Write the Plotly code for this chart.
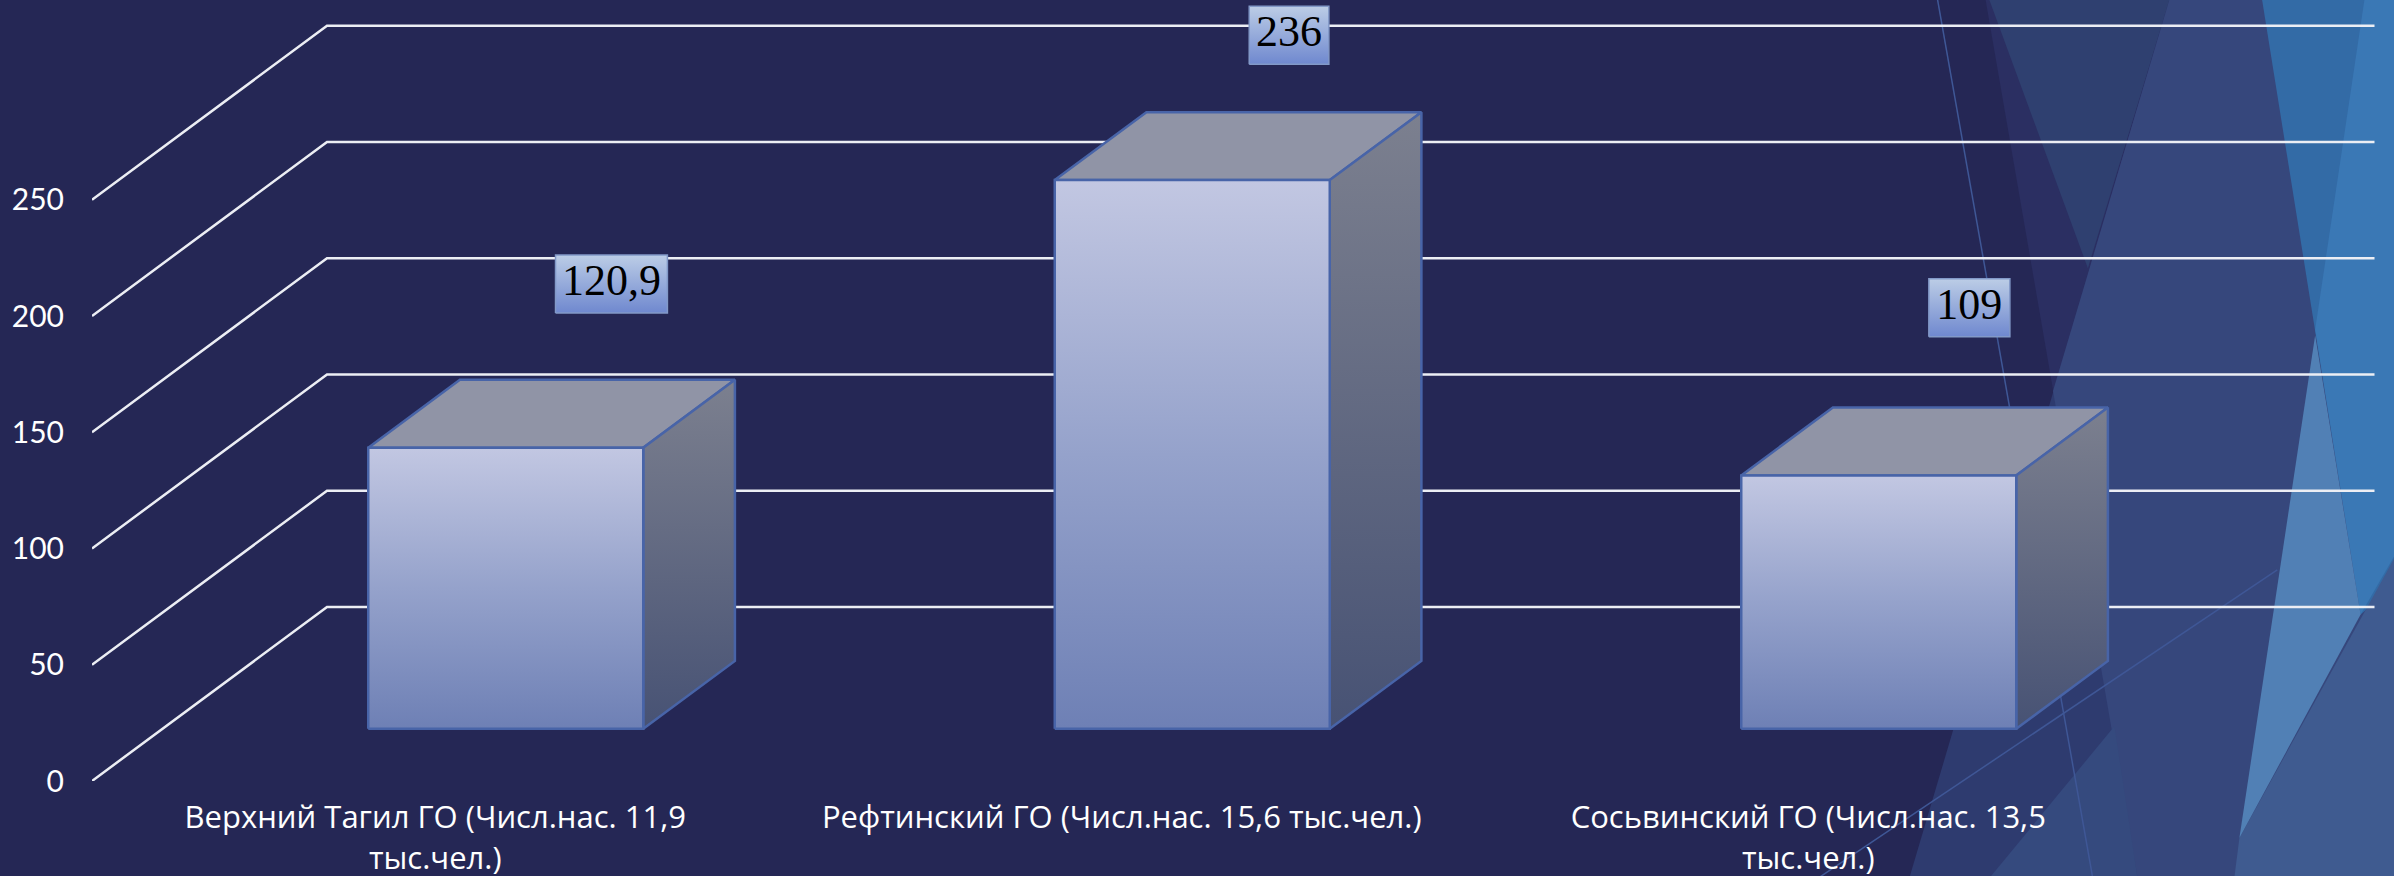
import plotly.graph_objects as go

# ---- data ----
categories = ["Верхний Тагил ГО (Числ.нас. 11,9<br>тыс.чел.)",
              "Рефтинский ГО (Числ.нас. 15,6 тыс.чел.)",
              "Сосьвинский ГО (Числ.нас. 13,5<br>тыс.чел.)"]
values = [120.9, 236, 109]
value_labels = ["120,9", "236", "109"]
y_ticks = [0, 50, 100, 150, 200, 250]

# ---- projection / style ----
W_PX, H_PX = 2394, 876
ML, MB = 92, 95
UX = 686.5            # px per category
UY = 2.325            # px per value unit
DEPTH_X = 235 / UX    # oblique projection of full floor depth
DEPTH_Y = 174 / UY
BAR_W = 275 / UX
F_FRONT, F_BACK = 0.30, 0.69
X_MIN, X_MAX = -0.5, -0.5 + (W_PX - ML) / UX
Y_MAX = (H_PX - MB) / UY
X_GRID_END = 2.5 + (235 - 12) / UX
LABEL_DX = [0.154, 0.141, 0.132]    # label-box offset from bar front-top centre
LABEL_DY = [70.4, 62.3, 72.1]
LABEL_W = [0.163, 0.116, 0.118]
LABEL_H = 25
EDGE = "#4864a8"
BG = "#252755"
FONT = "Open Sans"


def px_paper(cx, cy):
    """zoomed background tracing -> paper coordinates"""
    px = 1800 + cx / 2.64
    py = cy / 1.79
    return (px - ML) / (W_PX - ML), (H_PX - MB - py) / (H_PX - MB)


def poly(pts, color):
    path = "M " + " L ".join("%.5f,%.5f" % px_paper(*p) for p in pts) + " Z"
    return dict(type="path", path=path, xref="paper", yref="paper", fillcolor=color,
                line=dict(width=0), layer="below")


def seg(a, b, color):
    (x0, y0), (x1, y1) = px_paper(*a), px_paper(*b)
    return dict(type="line", x0=x0, y0=y0, x1=x1, y1=y1, xref="paper", yref="paper",
                line=dict(color=color, width=1.5), layer="below")


shapes = [
    poly([(490, 0), (1650, 0), (1650, 1580), (893, 1580)], "#2b2f62"),
    poly([(975, 0), (1650, 0), (1650, 1580), (285, 1580)], "#2e3b6f"),
    poly([(500, 0), (975, 0), (760, 480)], "#2f4070"),
    poly([(975, 0), (1650, 0), (1650, 1580), (893, 1580), (668, 700)], "#36477c"),
    poly([(490, 1580), (830, 1300), (893, 1580)], "#354a7e"),
    poly([(1220, 0), (1650, 0), (1650, 1000), (1480, 1100)], "#336ba6"),
    poly([(1490, 0), (1650, 0), (1650, 900), (1480, 1100), (1360, 590)], "#3a78b5"),
    poly([(1160, 1500), (1650, 900), (1650, 1580), (1145, 1580)], "#3f5b90"),
    poly([(1360, 600), (1480, 1100), (1160, 1500)], "#5180b5"),
    seg((362, -5), (775, 1580), "#3f5796"),
    seg((1260, 1020), (30, 1580), "#3f5796"),
]

fig = go.Figure()

# gridlines: front -> back -> along the back wall
gx, gy = [], []
for t in y_ticks:
    gx += [-0.5, -0.5 + DEPTH_X, X_GRID_END, None]
    gy += [t, t + DEPTH_Y, t + DEPTH_Y, None]
fig.add_trace(go.Scatter(x=gx, y=gy, mode="lines", line=dict(color="#eceef4", width=2.5),
                         hoverinfo="skip", showlegend=False))


def face(xs, ys, fill=None, gradient=None):
    kw = dict(fillgradient=gradient) if gradient else dict(fillcolor=fill)
    fig.add_trace(go.Scatter(x=xs + xs[:1], y=ys + ys[:1], mode="lines", fill="toself",
                             line=dict(color=EDGE, width=2.5), hoverinfo="skip",
                             showlegend=False, **kw))


for i, v in enumerate(values):
    x0 = i + F_FRONT * DEPTH_X - BAR_W / 2
    x1 = x0 + BAR_W
    yb = F_FRONT * DEPTH_Y
    yt = yb + v
    ddx = (F_BACK - F_FRONT) * DEPTH_X
    ddy = (F_BACK - F_FRONT) * DEPTH_Y
    face([x0, x1, x1 + ddx, x0 + ddx], [yt, yt, yt + ddy, yt + ddy], fill="#9094a6")
    face([x1, x1 + ddx, x1 + ddx, x1], [yb, yb + ddy, yt + ddy, yt],
         gradient=dict(type="vertical", colorscale=[[0, "#475274"], [1, "#7c808f"]]))
    face([x0, x1, x1, x0], [yb, yb, yt, yt],
         gradient=dict(type="vertical", colorscale=[[0, "#6e80b5"], [0.5, "#95a2cb"], [1, "#c2c7e2"]]))

for i, v in enumerate(values):
    cx = i + F_FRONT * DEPTH_X + LABEL_DX[i]
    cy = F_FRONT * DEPTH_Y + v + LABEL_DY[i]
    w = LABEL_W[i] / 2
    h = LABEL_H / 2
    fig.add_trace(go.Scatter(x=[cx - w, cx + w, cx + w, cx - w, cx - w],
                             y=[cy - h, cy - h, cy + h, cy + h, cy - h],
                             mode="lines", fill="toself", line=dict(color="#8299c8", width=1.5),
                             fillgradient=dict(type="vertical", colorscale=[[0, "#6f88cf"], [1, "#bccde6"]]),
                             hoverinfo="skip", showlegend=False))
    fig.add_trace(go.Scatter(x=[cx], y=[cy], mode="text", text=[value_labels[i]],
                             textposition="middle center",
                             textfont=dict(family="Liberation Serif", size=44, color="#000000"),
                             hoverinfo="skip", showlegend=False))

fig.update_layout(
    width=W_PX, height=H_PX, autosize=False,
    margin=dict(l=ML, r=0, t=0, b=MB, pad=0, autoexpand=False),
    paper_bgcolor=BG, plot_bgcolor="rgba(0,0,0,0)",
    shapes=shapes, showlegend=False,
    xaxis=dict(range=[X_MIN, X_MAX], tickmode="array", tickvals=[0, 1, 2], ticktext=categories,
               automargin=False,
               showgrid=False, zeroline=False, showline=False, ticks="outside", ticklen=9,
               tickcolor="rgba(0,0,0,0)", tickangle=0,
               tickfont=dict(family=FONT, size=31, color="#ffffff")),
    yaxis=dict(range=[0, Y_MAX], tickmode="array", tickvals=y_ticks,
               automargin=False,
               showgrid=False, zeroline=False, showline=False, ticks="outside", ticklen=21,
               tickcolor="rgba(0,0,0,0)",
               tickfont=dict(family="Lato", size=30, color="#ffffff")),
)
fig.write_html("out.html", config=dict(displayModeBar=False),
               post_script="document.body.style.margin='0';document.body.style.background='%s';" % BG)
